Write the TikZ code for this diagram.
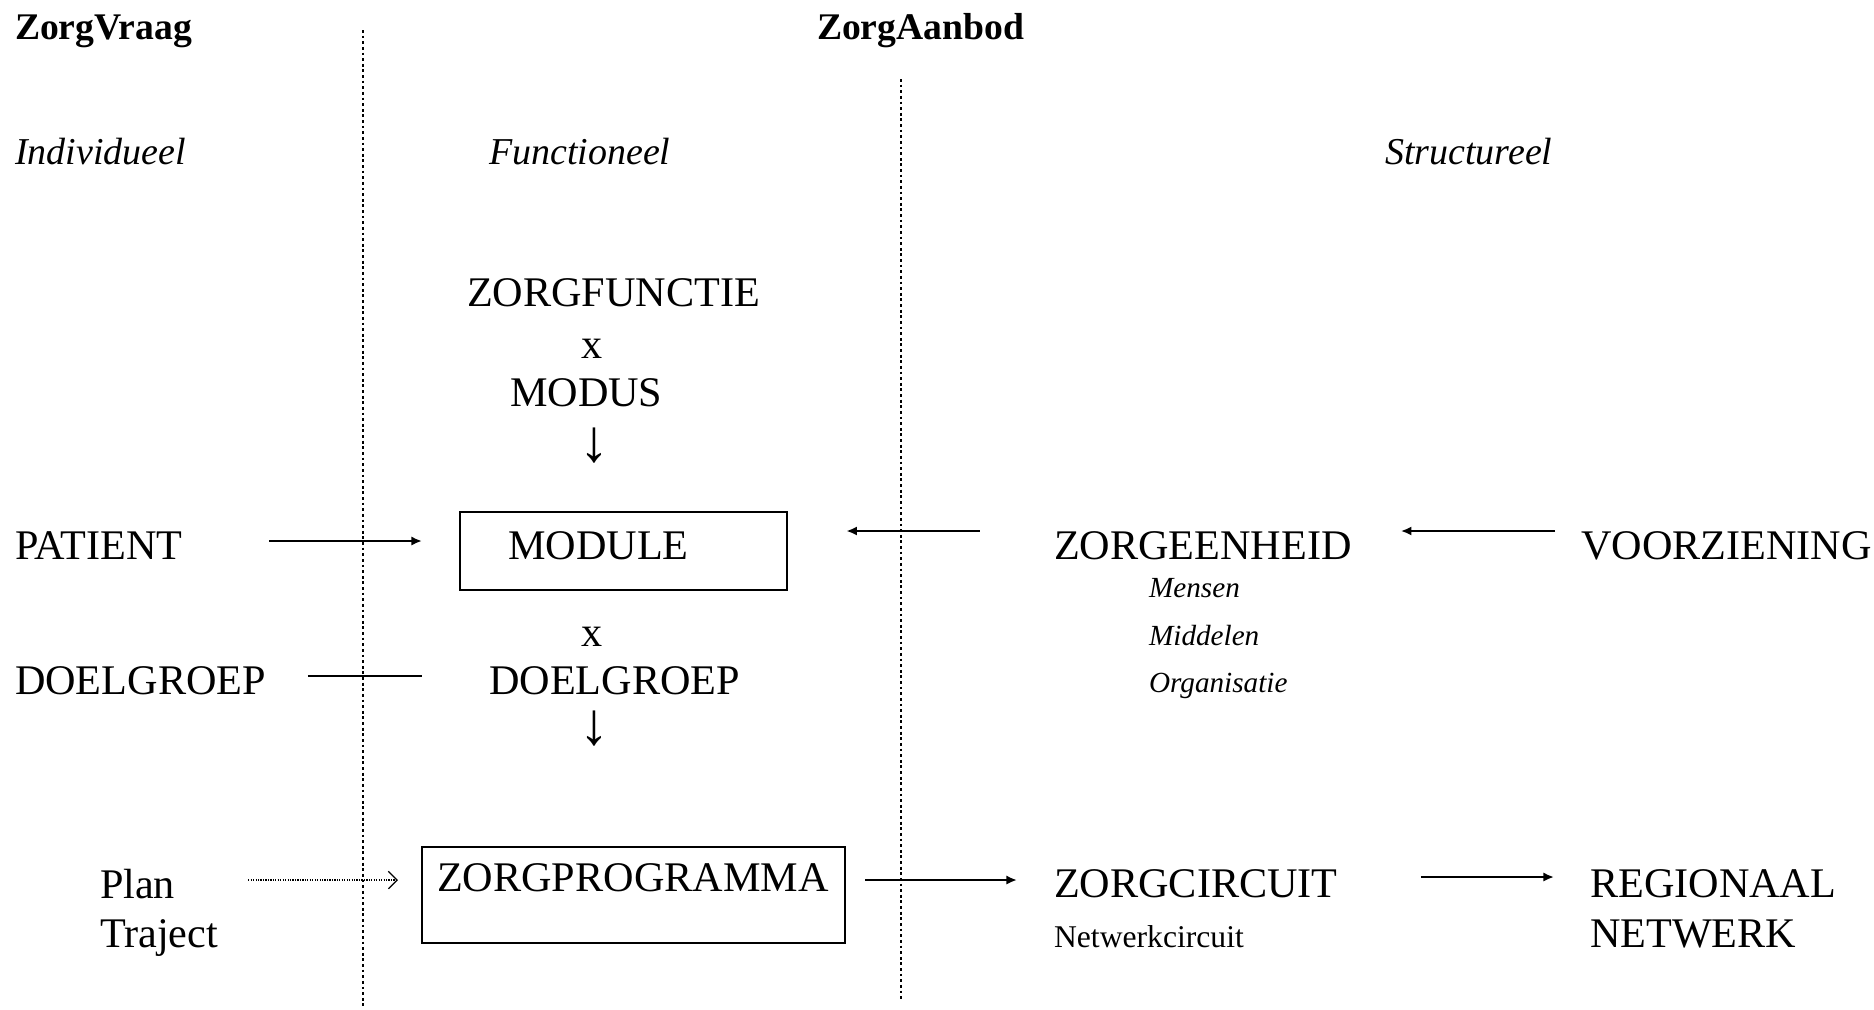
\documentclass[tikz,border=0pt]{standalone}
\usepackage{fontspec}
\setmainfont{Liberation Serif}
\usetikzlibrary{arrows.meta,positioning,calc}

\begin{document}
\begin{tikzpicture}[x=0.01cm, y=-0.01cm, >={Latex[length=3pt,width=2.6pt]}, line width=0.6pt,
    big/.style={font=\fontsize{12}{14}\selectfont, inner sep=0pt, anchor=west},
    down/.style={font=\fontsize{17}{18}\selectfont, inner sep=0pt, anchor=center},
    head/.style={font=\fontsize{10.7}{12}\selectfont\bfseries, inner sep=0pt, anchor=west},
    level/.style={font=\fontsize{10.8}{12}\selectfont\itshape, inner sep=0pt, anchor=west},
    detail/.style={font=\fontsize{8.3}{10}\selectfont\itshape, inner sep=0pt, anchor=west},
    sub/.style={font=\fontsize{9}{11}\selectfont, inner sep=0pt, anchor=west},
    divider/.style={line width=0.5pt, dash pattern=on 0.8pt off 0.8pt},
    dotarrow/.style={line width=0.35pt, dash pattern=on 0.35pt off 0.35pt, -{Straight Barb[length=2.5pt,width=5pt]}}]
    \useasboundingbox (0,0) rectangle (1874,1009);

    % kolommen
    \node[head] (vraag) at (14,31) {ZorgVraag};
    \node[head] (aanbod) at (816,31) {ZorgAanbod};
    \node[level] (indiv) at (14,152) {Individueel};
    \node[level] (functio) at (488,152) {Functioneel};
    \node[level] (structu) at (1384,152) {Structureel};
    \draw[divider] (363,30) -- (363,1009);
    \draw[divider] (901,79) -- (901,999);

    % functioneel
    \node[big] (functie) at (466,293) {ZORGFUNCTIE};
    \node[big, anchor=center] (maal1) at (592,349) {x};
    \node[big] (modus) at (509,393) {MODUS};
    \node[down] (pijl1) at (594,446) {↓};
    \node[big, draw, anchor=north west, inner xsep=0.48cm, inner ysep=0pt, text width=2.31cm, align=left,
          text height=0.47cm, text depth=0.31cm] (module) at (459,511) {MODULE};
    \node[big, anchor=center] (maal2) at (592,637) {x};
    \node[big] (doelgroep) at (488,681) {DOELGROEP};
    \node[down] (pijl2) at (594,729) {↓};
    \node[big, draw, anchor=north west, inner xsep=0.15cm, inner ysep=0pt, text width=3.93cm, align=left,
          text height=0.44cm, text depth=0.52cm] (programma) at (421,846) {ZORGPROGRAMMA};

    % individueel
    \node[big] (patient) at (14,546) {PATIENT};
    \node[big] (doelgroepL) at (14,681) {DOELGROEP};
    \node[big] (plan) at (99,884) {Plan};
    \node[big] (traject) at (99,938) {Traject};

    % structureel
    \node[big] (eenheid) at (1053,546) {ZORGEENHEID};
    \node[detail] (mensen) at (1148,588) {Mensen};
    \node[detail] (middelen) at (1148,636) {Middelen};
    \node[detail] (organisatie) at (1148,686) {Organisatie};
    \node[big] (voorziening) at (1580,546) {VOORZIENING};
    \node[big] (circuit) at (1053,884) {ZORGCIRCUIT};
    \node[sub] (netwerkc) at (1053,937) {Netwerkcircuit};
    \node[big] (regionaal) at (1589,884) {REGIONAAL};
    \node[big] (netwerk) at (1589,934) {NETWERK};

    % verbindingen
    \draw[->, shorten <=0.86cm, shorten >=0.37cm] ([yshift=0.05cm]patient.east) -- ([yshift=0.05cm]patient.east -| module.west);
    \draw[shorten <=0.41cm, shorten >=0.66cm] ([yshift=0.05cm]doelgroepL.east) -- ([yshift=0.05cm]doelgroepL.east -| doelgroep.west);
    \draw[->, shorten <=0.73cm, shorten >=0.58cm] ([yshift=0.15cm]eenheid.west) -- ([yshift=0.15cm]eenheid.west -| module.east);
    \draw[->, shorten <=0.25cm, shorten >=0.48cm] ([yshift=0.15cm]voorziening.west) -- ([yshift=0.15cm]voorziening.west -| eenheid.east);
    \draw[dotarrow, shorten <=0.72cm, shorten >=0.23cm] ([yshift=0.04cm]plan.east) -- ([yshift=0.04cm]plan.east -| programma.west);
    \draw[->, shorten <=0.19cm, shorten >=0.36cm] ([yshift=0.04cm]circuit.west -| programma.east) -- ([yshift=0.04cm]circuit.west);
    \draw[->, shorten <=0.82cm, shorten >=0.35cm] ([yshift=0.07cm]circuit.east) -- ([yshift=0.07cm]circuit.east -| regionaal.west);
\end{tikzpicture}
\end{document}
